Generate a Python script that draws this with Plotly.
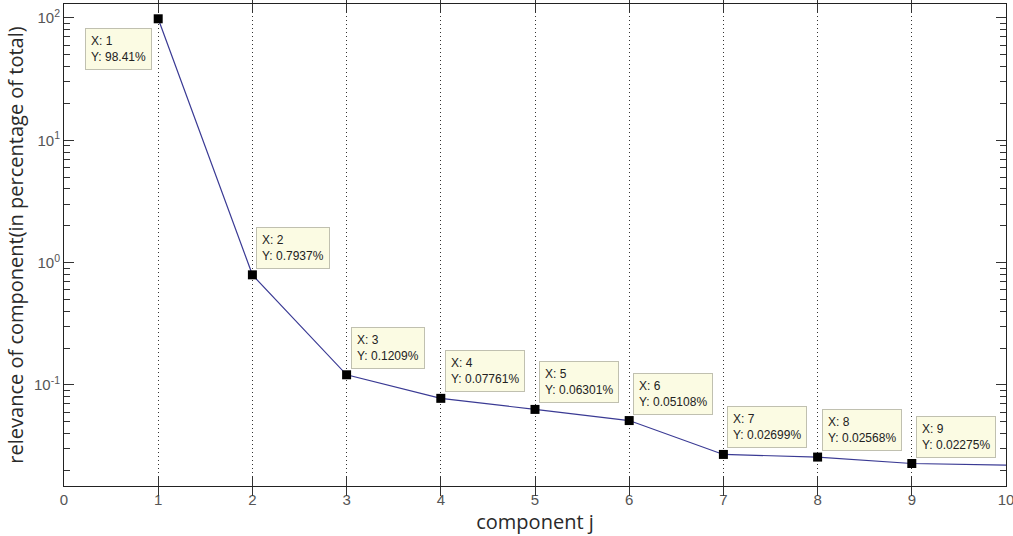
import numpy as np
import plotly.graph_objects as go

components = [1, 2, 3, 4, 5, 6, 7, 8, 9, 10]
relevance = [98.41, 0.7937, 0.1209, 0.07761, 0.06301, 0.05108, 0.02699, 0.02568, 0.02275, 0.0221]
tip_x = [1, 2, 3, 4, 5, 6, 7, 8, 9]
tip_y = [98.41, 0.7937, 0.1209, 0.07761, 0.06301, 0.05108, 0.02699, 0.02568, 0.02275]
tip_text = ["98.41%", "0.7937%", "0.1209%", "0.07761%", "0.06301%", "0.05108%", "0.02699%", "0.02568%", "0.02275%"]
x_ticks = [0, 1, 2, 3, 4, 5, 6, 7, 8, 9, 10]
y_ticks = [0.1, 1, 10, 100]
y_ticktext = ["10<sup>-1</sup>", "10<sup>0</sup>", "10<sup>1</sup>", "10<sup>2</sup>"]

y_range = [np.log10(0.0149), np.log10(130)]
tick_font = dict(family="Liberation Sans, Arial", size=15, color="#555")

fig = go.Figure()
fig.add_trace(go.Scatter(x=components, y=relevance, mode="lines",
                         line=dict(color="#3a3a94", width=1.2), showlegend=False, hoverinfo="skip"))
fig.add_trace(go.Scatter(x=tip_x, y=tip_y, mode="markers",
                         marker=dict(symbol="square", size=9, color="black"), showlegend=False))
# helper trace so that the right-hand mirrored log axis is drawn
fig.add_trace(go.Scatter(x=components, y=relevance, mode="lines", yaxis="y2",
                         line=dict(width=0, color="rgba(0,0,0,0)"), showlegend=False, hoverinfo="skip"))

for i, (xv, yv, t) in enumerate(zip(tip_x, tip_y, tip_text)):
    txt = f"X: {xv}<br>Y: {t}"
    if i == 0:
        kw = dict(xanchor="right", yanchor="top", xshift=-6, yshift=-9)
    else:
        kw = dict(xanchor="left", yanchor="bottom", xshift=4, yshift=6)
    fig.add_annotation(x=xv, y=np.log10(yv), text=txt, showarrow=False, align="left",
                       bgcolor="#fbfbe3", bordercolor="#c0c0b0", borderwidth=1, borderpad=5,
                       font=dict(family="Liberation Sans, Arial", size=12, color="#222"), **kw)

fig.update_xaxes(range=[0, 10], tickvals=x_ticks, showgrid=True, griddash="1px,3px",
                 gridcolor="#333", gridwidth=1, zeroline=False, automargin=False,
                 showline=True, linecolor="#222", linewidth=1, mirror="allticks",
                 ticks="inside", ticklen=9, tickcolor="#333", ticklabeloverflow="allow",
                 tickfont=tick_font,
                 title=dict(text="component j", standoff=2,
                            font=dict(family="Open Sans, Liberation Sans", size=20, color="#2a2a2a")))
fig.update_layout(
    yaxis=dict(type="log", range=y_range, automargin=False,
               tickvals=y_ticks, ticktext=y_ticktext, showgrid=False, zeroline=False,
               showline=True, linecolor="#222", linewidth=1, mirror=True,
               ticks="inside", ticklen=10, tickcolor="#333",
               minor=dict(ticks="inside", ticklen=6, tickcolor="#333", dtick="D1", showgrid=False),
               tickfont=tick_font,
               title=dict(text="relevance of component(in percentage of total)", standoff=4,
                          font=dict(family="Open Sans, Liberation Sans", size=20, color="#2a2a2a"))),
    yaxis2=dict(type="log", range=y_range, overlaying="y", side="right", anchor="x",
                automargin=False,
                tickvals=y_ticks, showticklabels=False, showgrid=False, zeroline=False,
                showline=False, ticks="inside", ticklen=10, tickcolor="#333",
                minor=dict(ticks="inside", ticklen=6, tickcolor="#333", dtick="D1", showgrid=False)),
    width=1013, height=536, paper_bgcolor="white", plot_bgcolor="white",
    margin=dict(l=64, r=7, t=4, b=50), showlegend=False)
fig.write_html("out.html")
